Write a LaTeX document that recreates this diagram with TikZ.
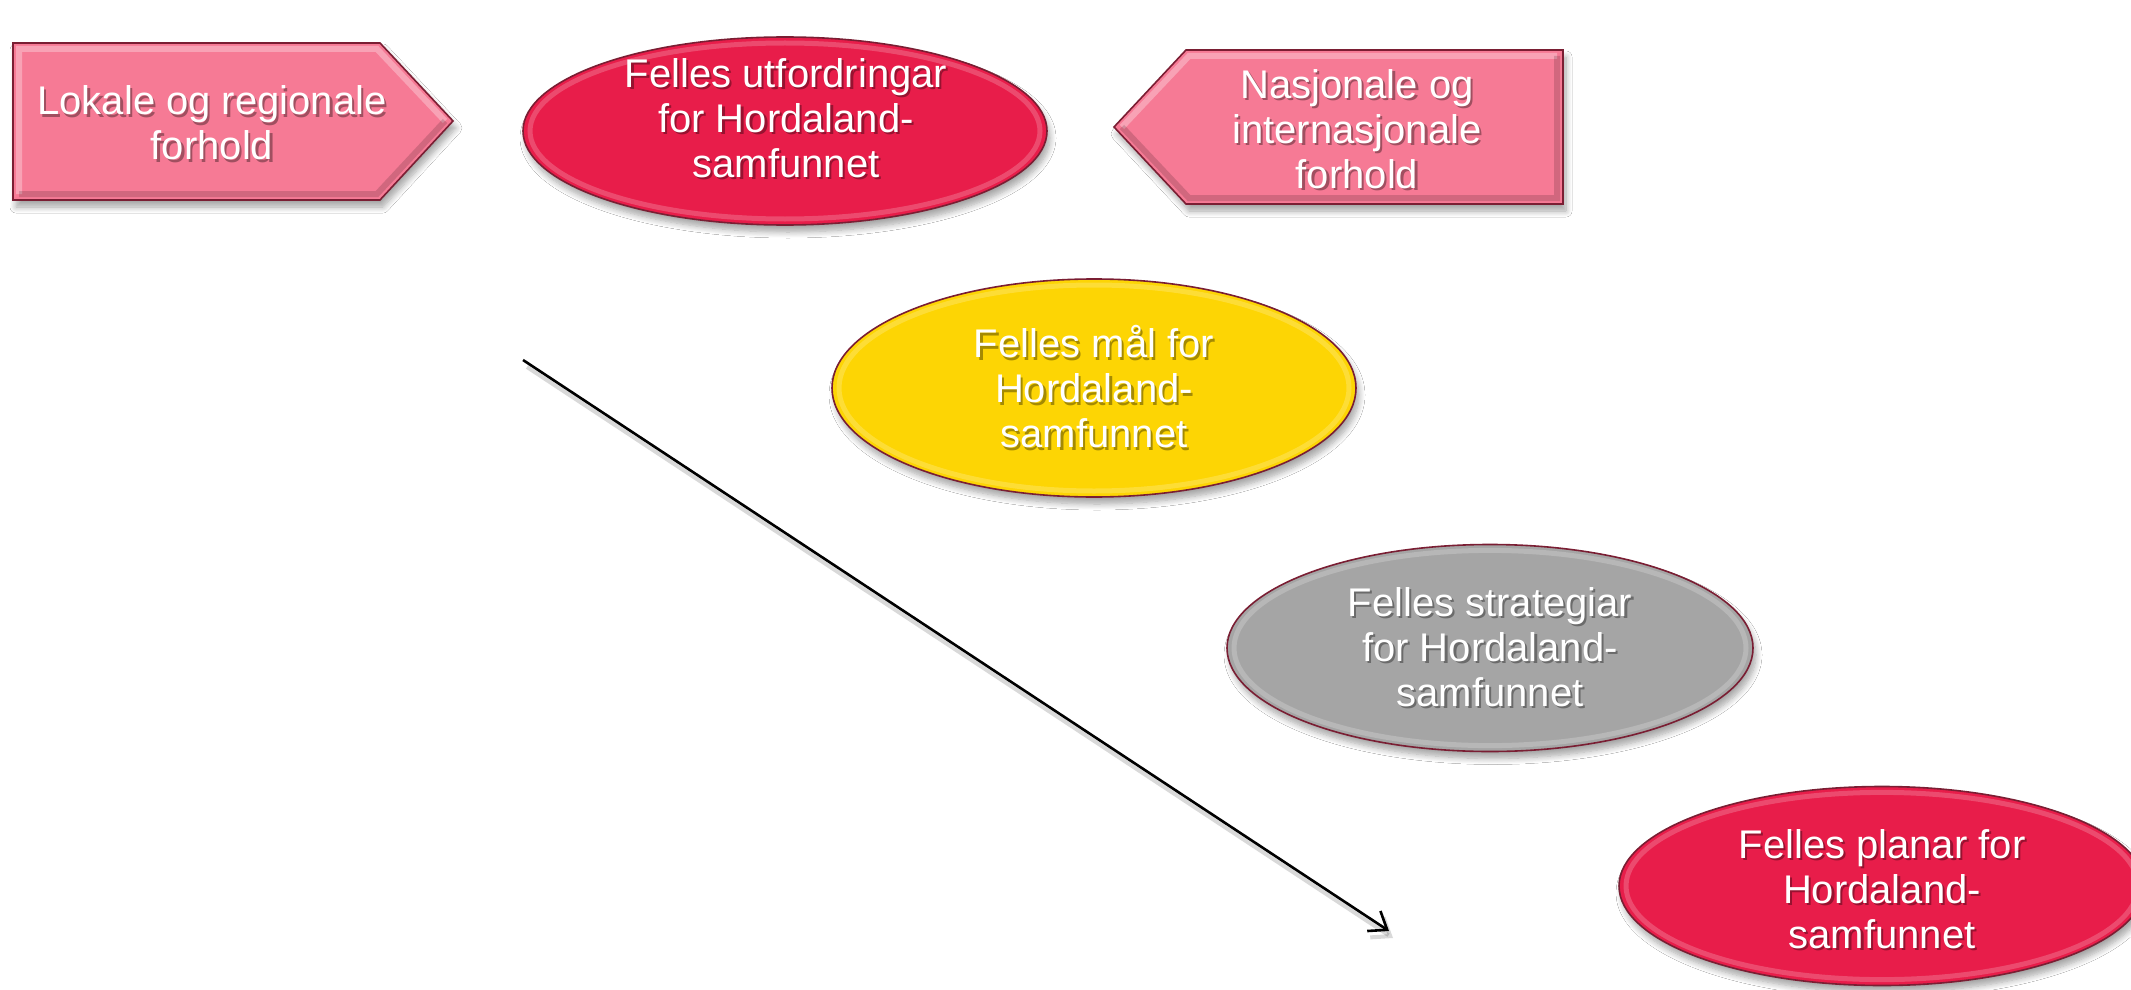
\documentclass[tikz,border=0pt]{standalone}
\usepackage{fontspec}
\setmainfont{Liberation Sans}
\usetikzlibrary{shapes.geometric,arrows.meta,shadows.blur}
\definecolor{cPink}{HTML}{F67A95}
\definecolor{cRed}{HTML}{E81D4A}
\definecolor{cYellow}{HTML}{FDD504}
\definecolor{cGray}{HTML}{A5A5A5}
\definecolor{cBorder}{HTML}{7A1E33}
\newcommand\shadowtext[3]{%
  \node[txtsh, xshift=1.1pt, yshift=-1.3pt] at (#2) {#3};
  \node[txt] (#1) at (#2) {#3};}
\begin{document}
\begin{tikzpicture}[x=0.5pt,y=-0.5pt,
  solidthree/.style={draw=cBorder, line width=0.8pt,
    blur shadow={shadow xshift=1.5pt, shadow yshift=-3.5pt, shadow blur radius=3pt, shadow blur steps=8, shadow opacity=35}},
  oval/.style={solidthree, ellipse, inner sep=0pt},
  rimlight/.style={draw=white, opacity=0.2, line width=2.5pt},
  bevlight/.style={draw=white, opacity=0.3, line width=3pt},
  bevdark/.style={draw=black, opacity=0.15, line width=3pt},
  txt/.style={text=white, align=center, font=\fontsize{20}{22.5}\selectfont, inner sep=0pt},
  txtsh/.style={txt, text=black, text opacity=0.35},
  arrowline/.style={draw=black, line width=1.3pt, -{Straight Barb[length=8pt,width=12pt]}},
  arrowshadow/.style={draw=black, opacity=0.15, line width=2pt, -{Straight Barb[length=8pt,width=12pt]}}]
\useasboundingbox (0,0) rectangle (2131,990);
\clip (0,0) rectangle (2131,990);
\fill[white] (0,0) rectangle (2131,990);

% left pentagon
\path[solidthree, fill=cPink] (13,43) -- (380,43) -- (453,121) -- (380,200) -- (13,200) -- cycle;
\draw[bevlight] (19,194) -- (19,49) -- (377,49) -- (445,121);
\draw[bevdark] (445,121) -- (377,194) -- (19,194);

% right pentagon
\path[solidthree, fill=cPink] (1114,127) -- (1186,50) -- (1563,50) -- (1563,204) -- (1186,204) -- cycle;
\draw[bevlight] (1122,127) -- (1189,56) -- (1557,56);
\draw[bevdark] (1557,56) -- (1557,198) -- (1189,198) -- (1122,127);

% ellipses
\node[oval, fill=cRed, minimum width=262pt, minimum height=94pt] (e1) at (785,131) {};
\draw[rimlight] (e1.center) ellipse [x radius=127.5pt, y radius=44pt];
\node[oval, fill=cYellow, minimum width=262pt, minimum height=109pt] (e2) at (1094,388) {};
\draw[rimlight] (e2.center) ellipse [x radius=127.5pt, y radius=51.5pt];
\node[oval, fill=cGray, minimum width=263pt, minimum height=103.5pt] (e3) at (1490,648) {};
\draw[rimlight] (e3.center) ellipse [x radius=128pt, y radius=48.8pt];
\node[oval, fill=cRed, minimum width=263pt, minimum height=99.5pt] (e4) at (1882,886) {};
\draw[rimlight] (e4.center) ellipse [x radius=128pt, y radius=46.8pt];

% texts
\shadowtext{t1}{212,123}{Lokale og regionale\\forhold}
\shadowtext{t2}{786,118}{Felles utfordringar\\for Hordaland-\\samfunnet}
\shadowtext{t3}{1357,129}{Nasjonale og\\internasjonale\\forhold}
\shadowtext{t4}{1094,387}{Felles mål for\\Hordaland-\\samfunnet}
\shadowtext{t5}{1490,647}{Felles strategiar\\for Hordaland-\\samfunnet}
\shadowtext{t6}{1882,889}{Felles planar for\\Hordaland-\\samfunnet}

% arrow
\coordinate (as) at (523,360);
\coordinate (ae) at (1389,931);
\coordinate (ass) at (527,367);
\coordinate (aes) at (1393,938);
\draw[arrowshadow] (ass) -- (aes);
\draw[arrowline] (as) -- (ae);
\end{tikzpicture}
\end{document}
